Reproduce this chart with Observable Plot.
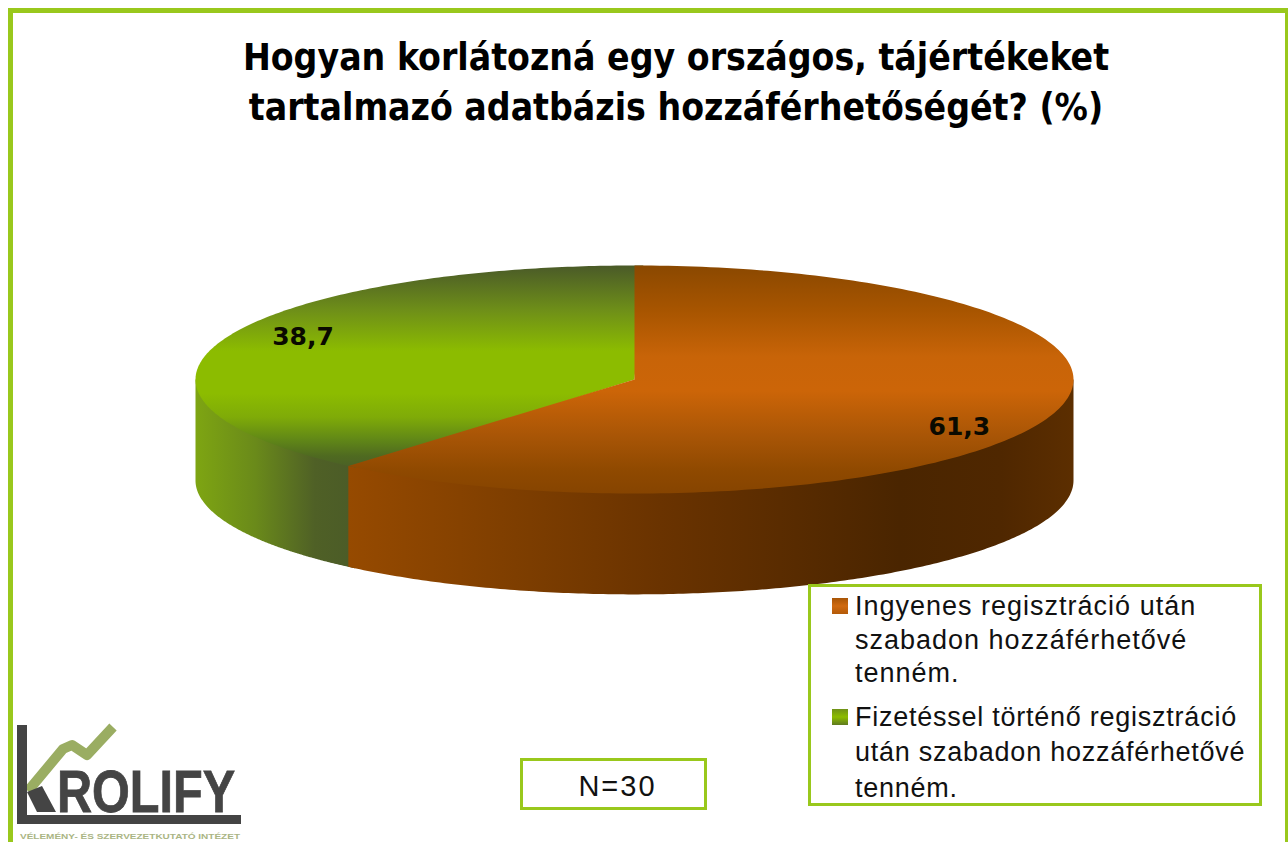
<!DOCTYPE html>
<html lang="hu">
<head>
<meta charset="utf-8">
<script src="https://cdn.jsdelivr.net/npm/d3@7"></script>
<script src="https://cdn.jsdelivr.net/npm/@observablehq/plot@0.6"></script>
<style>
html,body{margin:0;padding:0;background:#fff;}
#page{position:relative;width:1288px;height:842px;overflow:hidden;background:#fff;}
#frame{position:absolute;left:8px;top:8px;width:1272px;height:900px;border:5px solid #99c81c;box-sizing:content-box;}
#chart{position:absolute;left:0;top:0;}
#title{position:absolute;left:0;width:1352px;top:33px;text-align:center;font:bold 37px/50px "DejaVu Sans";font-stretch:condensed;color:#000;white-space:pre;}
.box{position:absolute;border:3px solid #99c81c;background:#fff;box-sizing:border-box;}
#legend{left:808px;top:584px;width:454px;height:222px;}
.ln{position:absolute;font:27px/34px "Liberation Sans";color:#111;white-space:pre;}
.sw{position:absolute;width:16px;height:16px;}
#n{left:520px;top:758px;width:187px;height:52px;padding-left:8px;text-align:center;font:29px/50px "Liberation Sans";letter-spacing:2px;color:#111;}
#logo{position:absolute;left:0;top:715px;}
</style>
</head>
<body>
<div id="page">
  <div id="frame"></div>
  <div id="chart"></div>
  <div id="title"></div>
  <div id="legend" class="box"></div>
  <div id="n" class="box"></div>
  <svg id="logo" width="320" height="127" viewBox="0 715 320 127">
    <polyline points="28,791 63,749 72,745 87,755 113,727" fill="none" stroke="#9aad62" stroke-width="10" stroke-linejoin="round"/>
    <rect x="17" y="725" width="10" height="99" fill="#444"/>
    <rect x="17" y="815" width="224" height="9" fill="#444"/>
    <polygon points="27,792 42,786 56,812 37,812" fill="#444"/>
    <text x="0" y="0" transform="translate(57,812) scale(0.81,1)" font-family="Liberation Sans" font-weight="bold" font-size="60" fill="#444" stroke="#444" stroke-width="0.8">ROLIFY</text>
    <text x="20" y="839" font-family="Liberation Sans" font-weight="bold" font-size="8" fill="#aab584" textLength="220" lengthAdjust="spacingAndGlyphs">VÉLEMÉNY- ÉS SZERVEZETKUTATÓ INTÉZET</text>
  </svg>
</div>
<script>
// Data
const titleLines = ["Hogyan korlátozná egy országos, tájértékeket", "tartalmazó adatbázis hozzáférhetőségét? (%)"];
const categories = ["Ingyenes regisztráció után szabadon hozzáférhetővé tenném.", "Fizetéssel történő regisztráció után szabadon hozzáférhetővé tenném."];
const values = [61.3, 38.7];
const valueLabels = ["61,3", "38,7"];
const legendLines = [
  ["Ingyenes regisztráció után", "szabadon hozzáférhetővé", "tenném."],
  ["Fizetéssel történő regisztráció", "után szabadon hozzáférhetővé", "tenném."]
];
const sampleNote = "N=30";
const labelX = [0.74, -0.755];
const labelY = [0.42, -0.37];

// Colours: [vertical position on the disc, colour]
const topStops = [
  [[-1, "#8a4800"], [-0.6, "#a85500"], [-0.2, "#c86408"], [0.1, "#cc6508"], [0.5, "#a85506"], [0.8, "#8f4900"], [1, "#864400"]],
  [[-1, "#4a5a28"], [-0.6, "#6f9018"], [-0.25, "#8cbc00"], [0.12, "#8cbc00"], [0.33, "#7fab08"], [0.54, "#5f8518"], [0.67, "#4f6a20"], [0.76, "#4b6126"]]
];
const wallStops = [
  [[0, "#964a00"], [0.25, "#7c3d00"], [0.43, "#6a3300"], [0.76, "#4a2500"], [0.9, "#4f2700"], [1, "#5c2e00"]],
  [[0, "#7ea512"], [0.35, "#6a8a1a"], [0.7, "#4f6026"], [1, "#4a5a28"]]
];
const swatchColors = ["linear-gradient(#a85506,#d06a10 50%,#b35a08)", "linear-gradient(#6f9018,#8cbc00 50%,#5f7a20)"];

// Pie geometry in scale units
const depth = 0.885;
const overlap = 0.02;
const total = d3.sum(values);
const split = 2 * Math.PI * values[0] / total;
const pt = (t, dy = 0, r = 1) => ({x: r * Math.sin(t), y: -r * Math.cos(t) + dy});
const arc = (a, b, dy = 0, r = 1, n = 200) => d3.range(n + 1).map(i => pt(a + (b - a) * i / n, dy, r));

const topOrange = [{x: 0, y: 0}, ...arc(0, split)];
const topGreen = [{x: 0, y: 0}, ...arc(split - overlap, 2 * Math.PI + overlap)];
// a wall runs a little under the top face, so that no seam shows
const wall = (a, b) => [pt(a), ...arc(a, b, 0, 0.96), pt(b), ...arc(b, a, depth)];
const wallOrange = wall(Math.PI / 2, split);
const wallGreen = wall(split - overlap, 1.5 * Math.PI);

function defs() {
  const d = d3.create("svg:defs");
  const grad = (id, stops, vertical, lo, hi) => {
    const g = d.append("linearGradient").attr("id", id).attr("x1", 0).attr("y1", 0)
      .attr("x2", vertical ? 0 : 1).attr("y2", vertical ? 1 : 0);
    for (const [p, c] of stops) {
      g.append("stop").attr("offset", (p - lo) / (hi - lo)).attr("stop-color", c);
    }
  };
  grad("topO", topStops[0], true, -1, 1);
  grad("topG", topStops[1], true, -1, d3.max(topGreen, p => p.y));
  grad("wallO", wallStops[0], false, 0, 1);
  grad("wallG", wallStops[1], false, 0, 1);
  return d.node();
}

const poly = (data, id) => Plot.line(data, {x: "x", y: "y", fill: `url(#${id})`, stroke: "none", curve: "linear"});

const plot = Plot.plot({
  width: 1288,
  height: 842,
  margin: 0,
  style: {background: "transparent"},
  x: {type: "linear", domain: [-1, 1], range: [195, 1073], axis: null},
  y: {type: "linear", domain: [-1, 1], range: [265, 493], axis: null},
  marks: [
    defs,
    poly(wallGreen, "wallG"),
    poly(wallOrange, "wallO"),
    poly(topGreen, "topG"),
    poly(topOrange, "topO"),
    Plot.text(valueLabels, {
      x: (d, i) => labelX[i],
      y: (d, i) => labelY[i],
      text: d => d,
      fontFamily: "DejaVu Sans",
      fontWeight: "bold",
      fontSize: 25,
      fill: "#0a0a00"
    })
  ]
});
document.getElementById("chart").appendChild(plot);

document.getElementById("title").textContent = titleLines.join("\n");
document.getElementById("n").textContent = sampleNote;

const legend = document.getElementById("legend");
const lineTops = [[2, 36, 69], [113, 148, 184]];
const spacing = ["1px", "0.75px"];
legendLines.forEach((lines, s) => {
  const sw = document.createElement("div");
  sw.className = "sw";
  sw.style.left = "21px";
  sw.style.top = (lineTops[s][0] + 9) + "px";
  sw.style.background = swatchColors[s];
  sw.title = categories[s];
  legend.appendChild(sw);
  lines.forEach((t, i) => {
    const el = document.createElement("div");
    el.className = "ln";
    el.style.left = "44px";
    el.style.top = lineTops[s][i] + "px";
    el.style.letterSpacing = spacing[s];
    el.textContent = t;
    legend.appendChild(el);
  });
});
</script>
</body>
</html>
